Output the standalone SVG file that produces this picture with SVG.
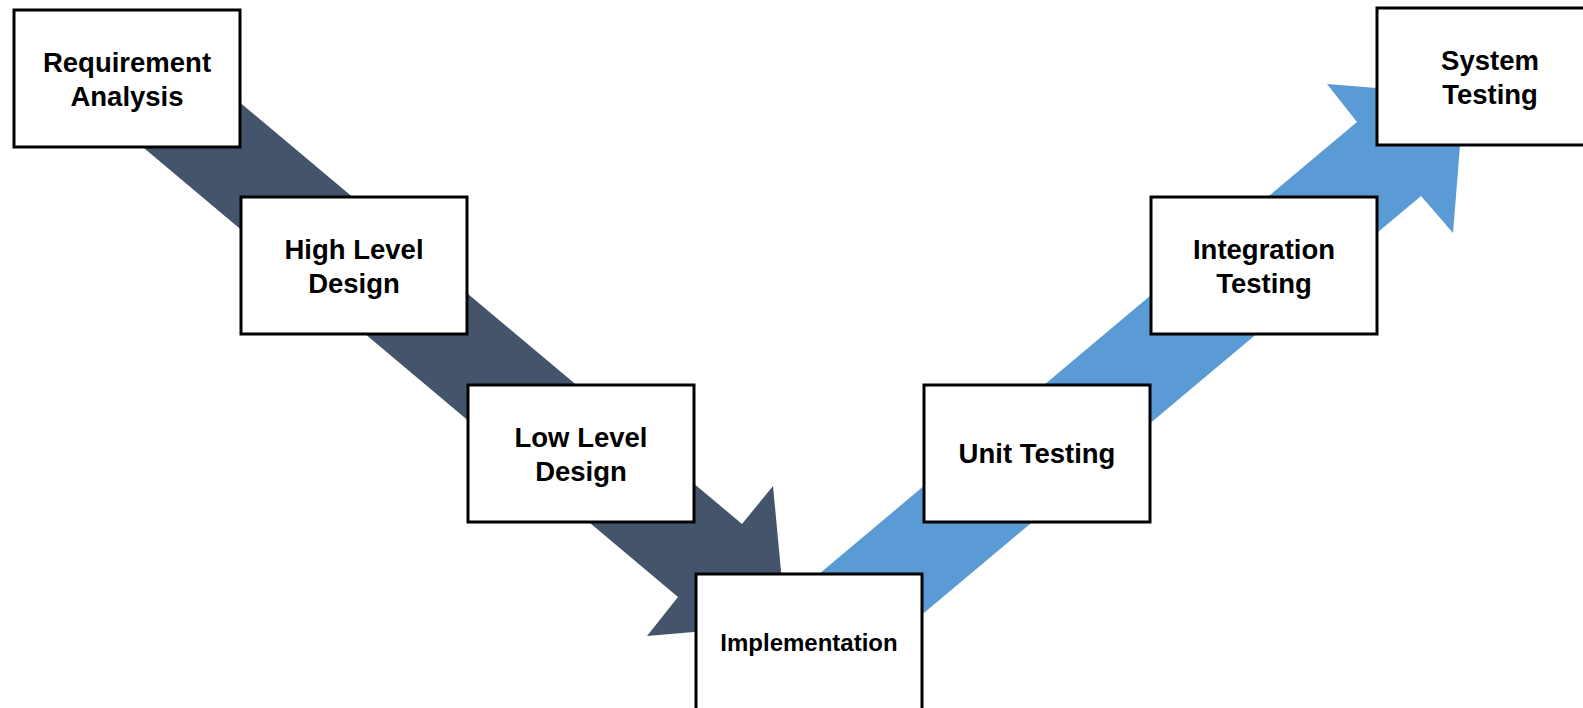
<svg xmlns="http://www.w3.org/2000/svg" width="1583" height="708" viewBox="0 0 1583 708">
<style>
.box{fill:#fff;stroke:#000;stroke-width:3}
.t{font-family:"Liberation Sans",Arial,sans-serif;font-weight:bold;font-size:27.5px;fill:#000;text-anchor:middle}
.s{font-size:24px}
</style>
<rect width="1583" height="708" fill="#fff"/>
<g id="connectors">
<polygon id="down-arrow" fill="#44546A" points="150,27 742,524 773,486 786,624 647,636 678,597 88,101"/>
<polygon id="up-arrow" fill="#5B9BD5" points="800,590 1357,122 1327,84 1464,95 1453,233 1421,196 862,665"/>
</g>
<g id="requirement-analysis"><rect class="box" x="14" y="10" width="226" height="137"/><text class="t" x="127" y="72">Requirement</text><text class="t" x="127" y="106">Analysis</text></g>
<g id="high-level-design"><rect class="box" x="241" y="197" width="226" height="137"/><text class="t" x="354" y="259">High Level</text><text class="t" x="354" y="293">Design</text></g>
<g id="low-level-design"><rect class="box" x="468" y="385" width="226" height="137"/><text class="t" x="581" y="447">Low Level</text><text class="t" x="581" y="481">Design</text></g>
<g id="implementation"><rect class="box" x="696" y="574" width="226" height="137"/><text class="t s" x="809" y="651">Implementation</text></g>
<g id="unit-testing"><rect class="box" x="924" y="385" width="226" height="137"/><text class="t" x="1037" y="463">Unit Testing</text></g>
<g id="integration-testing"><rect class="box" x="1151" y="197" width="226" height="137"/><text class="t" x="1264" y="259">Integration</text><text class="t" x="1264" y="293">Testing</text></g>
<g id="system-testing"><rect class="box" x="1377" y="8" width="226" height="137"/><text class="t" x="1490" y="70">System</text><text class="t" x="1490" y="104">Testing</text></g>
</svg>
